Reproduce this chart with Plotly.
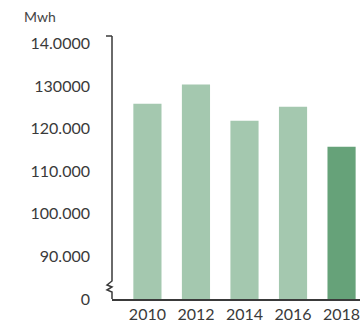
import plotly.graph_objects as go

years = ["2010", "2012", "2014", "2016", "2018"]
values = [125900, 130400, 121900, 125200, 115800]
colors = ["#a4c8af", "#a4c8af", "#a4c8af", "#a4c8af", "#66a279"]

tick_vals = [80000, 90000, 100000, 110000, 120000, 130000, 140000]
tick_text = ["0", "90.000", "100.000", "110.000", "120.000", "130000", "14.0000"]

W, Hh = 360, 330
L, T, B = 112, 36.4, 31
pw = W - L
ph = Hh - T - B
y_lo, y_hi = 80000, 141800

def px(x):
    return (x - L) / pw

def py(y):
    return (Hh - B - y) / ph

fig = go.Figure(go.Bar(
    x=years, y=values, marker=dict(color=colors, line=dict(width=0)),
    width=0.58,
))

axis_col = "#3a3a3a"
font = "Lato"
txt_col = "#3a3a3a"

# y axis line with break
path = (f"M {px(112)},{py(36.4)} L {px(112)},{py(281)} "
        f"L {px(107)},{py(285)} L {px(112)},{py(287)} L {px(107)},{py(290)} "
        f"L {px(112)},{py(292)} L {px(112)},{py(299)}")
fig.add_shape(type="path", xref="paper", yref="paper", path=path,
              line=dict(color=axis_col, width=1.5))
fig.add_shape(type="line", xref="paper", yref="paper",
              x0=px(106), x1=px(112), y0=1, y1=1,
              line=dict(color=axis_col, width=1.5))

fig.add_annotation(text="Mwh", xref="paper", yref="paper",
                   x=px(40), y=py(17), xanchor="center", yanchor="middle",
                   showarrow=False,
                   font=dict(family=font, size=14, color="#444"))

fig.update_layout(
    width=W, height=Hh,
    margin=dict(l=L, r=0, t=T, b=B),
    plot_bgcolor="white", paper_bgcolor="white",
    showlegend=False,
    xaxis=dict(type="category", range=[-0.73, 4.38], showline=True,
               linecolor=axis_col, linewidth=1.5, ticks="", showgrid=False,
               tickfont=dict(family=font, size=16, color=txt_col),
               ticklabelstandoff=0),
    yaxis=dict(range=[y_lo, y_hi], tickvals=tick_vals, ticktext=tick_text,
               showgrid=False, zeroline=False, showline=False, ticks="",
               tickfont=dict(family=font, size=16, color=txt_col),
               ticklabelstandoff=21),
)

fig.write_html("out.html")
